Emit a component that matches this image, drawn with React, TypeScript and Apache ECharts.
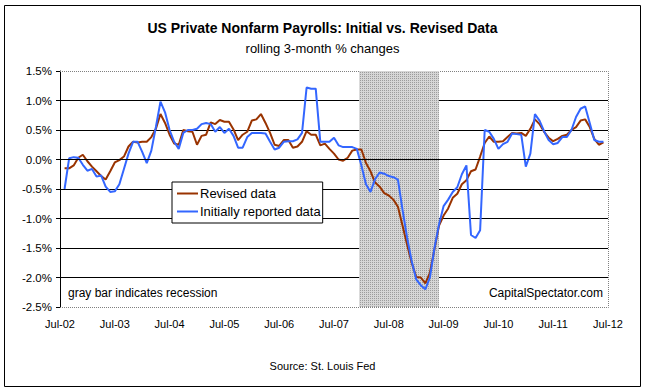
import React, { useEffect, useRef } from "react";
import * as echarts from "echarts";

// Month index: 0 = Jul-02 ... 120 = Jul-12. Data start at index 1 (Aug-02).
const START_INDEX = 1;
const X_TICKS_YEARS = [2002, 2003, 2004, 2005, 2006, 2007, 2008, 2009, 2010, 2011, 2012];
const Y_MIN = -2.5;
const Y_MAX = 1.5;
const RECESSION = [65.5, 83];

const revised = [
  -0.15, -0.15, -0.1, 0.03, 0.08, -0.03, -0.12, -0.2, -0.28, -0.34,
  -0.2, -0.05, -0.01, 0.05, 0.22, 0.3, 0.29, 0.3, 0.3, 0.38,
  0.52, 0.77, 0.62, 0.42, 0.27, 0.25, 0.5, 0.48, 0.47, 0.25,
  0.4, 0.42, 0.63, 0.6, 0.67, 0.64, 0.64, 0.51, 0.33, 0.42,
  0.47, 0.66, 0.68, 0.77, 0.62, 0.45, 0.25, 0.23, 0.33, 0.33,
  0.2, 0.22, 0.3, 0.48, 0.42, 0.42, 0.24, 0.27, 0.18, 0.1,
  0.0, -0.02, 0.03, 0.15, 0.17, 0.17, -0.06, -0.2, -0.39, -0.46,
  -0.57, -0.61, -0.68, -0.8, -1.12, -1.44, -1.75, -1.99, -2.0, -2.1,
  -1.92, -1.52, -1.12, -0.95, -0.83, -0.65, -0.58, -0.42, -0.35, -0.2,
  -0.17, 0.05, 0.28, 0.39, 0.3, 0.3, 0.31, 0.38, 0.45, 0.44,
  0.45, 0.4, 0.52, 0.68, 0.6, 0.47, 0.37, 0.31, 0.35, 0.4,
  0.42, 0.5, 0.55, 0.66, 0.68, 0.55, 0.35, 0.25, 0.29,
];

const initial = [
  -0.5, 0.02, 0.04, 0.03, -0.09, -0.19, -0.16, -0.29, -0.27, -0.46,
  -0.55, -0.54, -0.42, -0.16, 0.1, 0.3, 0.3, 0.13, -0.06, 0.15,
  0.55, 0.98, 0.8, 0.5, 0.3, 0.18, 0.45, 0.5, 0.5, 0.52,
  0.6, 0.62, 0.6, 0.47, 0.55, 0.45, 0.52, 0.4, 0.2, 0.2,
  0.38, 0.45, 0.45, 0.45, 0.44, 0.3, 0.17, 0.2, 0.3, 0.31,
  0.31, 0.34, 0.45, 1.22, 1.2, 1.2, 0.3, 0.3, 0.3, 0.37,
  0.24, 0.21, 0.21, 0.21, 0.18, -0.1, -0.42, -0.55, -0.33, -0.22,
  -0.24, -0.28, -0.3, -0.34, -0.85, -1.32, -1.72, -2.03, -2.13, -2.2,
  -2.0, -1.5, -1.1, -0.79, -0.68, -0.55, -0.47, -0.25, -0.1, -1.28,
  -1.33, -1.2, 0.5, 0.47, 0.35, 0.18, 0.26, 0.3, 0.44, 0.43,
  0.42, -0.12, 0.1, 0.77, 0.66, 0.48, 0.33, 0.26, 0.28, 0.38,
  0.38, 0.5, 0.72, 0.86, 0.9, 0.62, 0.33, 0.3, 0.3,
];

const FONT = 'Arial, "Liberation Sans", Helvetica, sans-serif';

function makeDotPattern(): any {
  try {
    const c = document.createElement("canvas");
    c.width = 2;
    c.height = 2;
    const ctx = c.getContext("2d");
    if (!ctx) return "#c6c6c6";
    ctx.fillStyle = "#d6d6d6";
    ctx.fillRect(0, 0, 2, 2);
    ctx.fillStyle = "#9c9c9c";
    ctx.fillRect(0, 0, 1, 1);
    return { image: c, repeat: "repeat" };
  } catch (e) {
    return "#c6c6c6";
  }
}

export default function App() {
  const ref = useRef<HTMLDivElement>(null);

  useEffect(() => {
    if (!ref.current) return;
    const chart = echarts.init(ref.current, null, { renderer: "svg" });

    const toPairs = (arr: number[]) => arr.map((v, i) => [i + START_INDEX, v]);
    const gridL = 60, gridT = 71, gridR = 608, gridB = 307;

    const option: any = {
      animation: false,
      backgroundColor: "#fff",
      title: [
        {
          text: "US Private Nonfarm Payrolls: Initial vs. Revised Data",
          left: "center",
          top: 16,
          textStyle: { fontFamily: FONT, fontSize: 14, fontWeight: "bold", color: "#000" },
        },
        {
          text: "rolling 3-month % changes",
          left: "center",
          top: 37,
          textStyle: { fontFamily: FONT, fontSize: 13, fontWeight: "normal", color: "#000" },
        },
        {
          text: "Source: St. Louis Fed",
          left: "center",
          top: 355,
          textStyle: { fontFamily: FONT, fontSize: 11, fontWeight: "normal", color: "#000" },
        },
      ],
      grid: {
        left: gridL,
        top: gridT,
        right: 645 - gridR,
        bottom: 392 - gridB,
        containLabel: false,
        outerBoundsMode: "none",
      },
      legend: {
        data: ["Revised data", "Initially reported data"],
        orient: "vertical",
        left: 172,
        top: 182,
        backgroundColor: "#fff",
        borderColor: "#000",
        borderWidth: 1,
        borderRadius: 0,
        padding: [5, 2, 5, 5],
        itemGap: 5,
        itemWidth: 21,
        itemHeight: 2,
        icon: "rect",
        textStyle: { fontFamily: FONT, fontSize: 13, color: "#000", padding: [0, 0, 0, -3] },
      },
      xAxis: {
        type: "value",
        min: 0,
        max: 120,
        interval: 12,
        axisLine: { show: false, onZero: false },
        axisTick: { show: false },
        splitLine: { show: false },
        axisLabel: {
          showMinLabel: true,
          showMaxLabel: true,
          margin: 11,
          fontFamily: FONT,
          fontSize: 11,
          color: "#000",
          formatter: (v: number) => {
            const idx = Math.round(v / 12);
            const yr = X_TICKS_YEARS[idx];
            return yr === undefined ? "" : "Jul-" + String(yr % 100).padStart(2, "0");
          },
        },
      },
      yAxis: {
        type: "value",
        min: Y_MIN,
        max: Y_MAX,
        interval: 0.5,
        axisLine: { show: true, lineStyle: { color: "#000", width: 1 } },
        axisTick: { show: true, length: 4, lineStyle: { color: "#000" } },
        axisLabel: {
          margin: 8,
          fontFamily: FONT,
          fontSize: 11.5,
          color: "#000",
          formatter: (v: number) => v.toFixed(1) + "%",
        },
        splitLine: {
          show: true,
          showMinLine: false,
          showMaxLine: false,
          lineStyle: { color: "#000", width: 1 },
        },
      },
      series: [
        {
          name: "Revised data",
          type: "line",
          data: toPairs(revised),
          symbol: "none",
          showSymbol: false,
          lineStyle: { color: "#993300", width: 2 },
          itemStyle: { color: "#993300" },
          z: 3,
          markArea: {
            silent: true,
            itemStyle: { color: makeDotPattern() },
            data: [[{ xAxis: RECESSION[0] }, { xAxis: RECESSION[1] }]],
          },
        },
        {
          name: "Initially reported data",
          type: "line",
          data: toPairs(initial),
          symbol: "none",
          showSymbol: false,
          lineStyle: { color: "#3366ff", width: 2 },
          itemStyle: { color: "#3366ff" },
          z: 4,
          markLine: {
            silent: true,
            symbol: "none",
            label: { show: false },
            lineStyle: { color: "#000", width: 1, type: "solid" },
            data: [{ yAxis: 0 }],
          },
        },
      ],
      graphic: [
        {
          type: "rect",
          shape: { x: 4.5, y: 5.5, width: 636, height: 381 },
          style: { fill: "none", stroke: "#000", lineWidth: 1 },
          silent: true,
        },
        {
          type: "polyline",
          shape: { points: [[gridL, gridT + 0.5], [gridR + 0.5, gridT + 0.5], [gridR + 0.5, gridB + 0.5], [gridL, gridB + 0.5]] },
          style: { fill: "none", stroke: "#808080", lineWidth: 1, lineDash: [1, 1] },
          silent: true,
          z: 1,
        },
        {
          type: "text",
          x: 68,
          y: 293,
          style: {
            text: "gray bar indicates recession",
            font: `12px ${FONT}`,
            fill: "#000",
            align: "left",
            verticalAlign: "middle",
          },
          silent: true,
        },
        {
          type: "text",
          x: 603,
          y: 293,
          style: {
            text: "CapitalSpectator.com",
            font: `12px ${FONT}`,
            fill: "#000",
            align: "right",
            verticalAlign: "middle",
          },
          silent: true,
        },
      ],
    };

    chart.setOption(option);
    return () => chart.dispose();
  }, []);

  return (
    <div
      ref={ref}
      style={{ position: "fixed", left: 0, top: 0, width: 645, height: 392, background: "#fff" }}
    />
  );
}
